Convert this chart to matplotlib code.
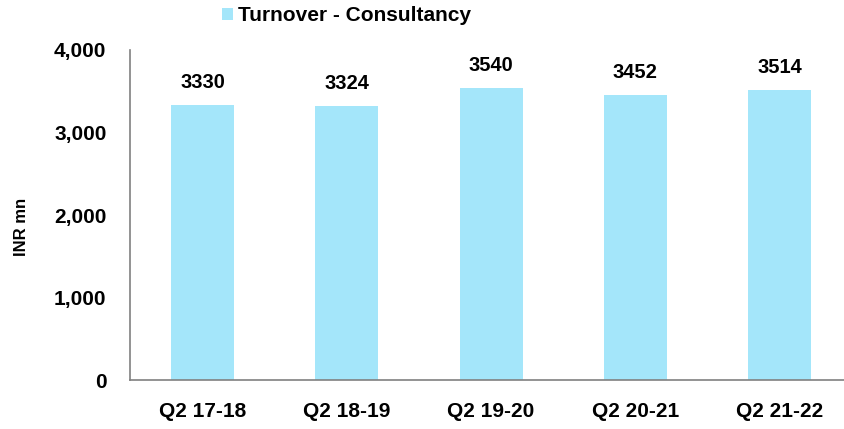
import matplotlib.pyplot as plt
import numpy as np

plt.rcParams['font.family'] = ['Liberation Sans', 'DejaVu Sans']
plt.rcParams['font.weight'] = 'bold'

quarters = ['Q2 17-18', 'Q2 18-19', 'Q2 19-20', 'Q2 20-21', 'Q2 21-22']
turnover = [3330, 3324, 3540, 3452, 3514]
bar_color = '#A4E6FA'

fig = plt.figure(figsize=(8.44, 4.29), dpi=100)
ax = fig.add_axes([130 / 844, 1 - 380 / 429, 714 / 844, 330 / 429])

x = np.arange(len(quarters))
bars = ax.bar(x, turnover, width=0.437, color=bar_color, label='Turnover - Consultancy')

for xi, v in zip(x, turnover):
    ax.text(xi, v + 155, str(v), ha='center', va='bottom', fontsize=14.5, fontweight='bold')

ax.set_xlim(-0.503, 4.447)
ax.set_ylim(0, 4000)
ax.set_yticks([0, 1000, 2000, 3000, 4000])
ax.set_yticklabels(['0', '1,000', '2,000', '3,000', '4,000'])
ax.set_xticks(x)
ax.set_xticklabels(quarters)
ax.tick_params(axis='y', length=0, pad=17, labelsize=15)
ax.tick_params(axis='x', length=0, pad=16, labelsize=15)

for s in ['top', 'right']:
    ax.spines[s].set_visible(False)
for s in ['left', 'bottom']:
    ax.spines[s].set_color('#808080')
    ax.spines[s].set_linewidth(1.2)

fig.text(21 / 844, 1 - 227 / 429, 'INR mn', rotation=90, ha='center', va='center',
         fontsize=12, fontweight='bold')

ax.legend(loc='upper left', bbox_to_anchor=(218 / 844, 1 - 2 / 429), bbox_transform=fig.transFigure,
          frameon=False, fontsize=15, handlelength=0.5, handleheight=0.5,
          handletextpad=0.25, borderpad=0.2, borderaxespad=0)

fig.savefig('out.png', dpi=100)
